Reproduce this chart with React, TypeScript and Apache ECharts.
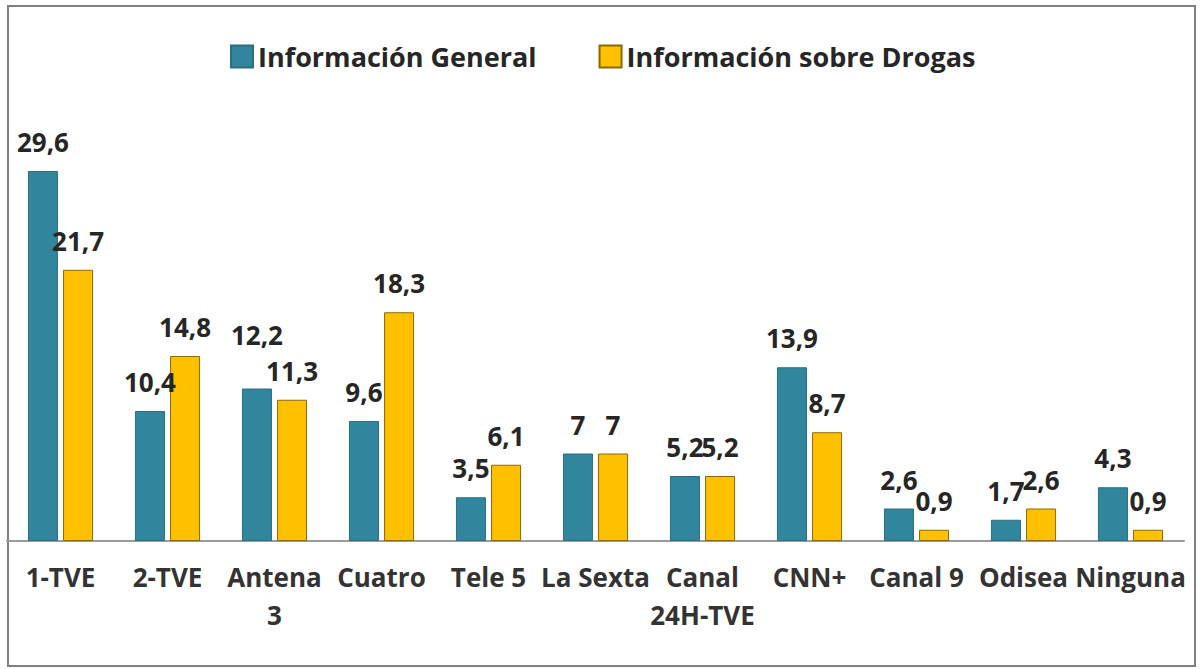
import React, { useEffect, useRef } from "react";
import * as echarts from "echarts";

const categories = ["1-TVE", "2-TVE", "Antena\n3", "Cuatro", "Tele 5", "La Sexta", "Canal\n24H-TVE", "CNN+", "Canal 9", "Odisea", "Ninguna"];
const general = [29.6, 10.4, 12.2, 9.6, 3.5, 7, 5.2, 13.9, 2.6, 1.7, 4.3];
const drogas = [21.7, 14.8, 11.3, 18.3, 6.1, 7, 5.2, 8.7, 0.9, 2.6, 0.9];
const seriesNames = ["Información General", "Información sobre Drogas"];
// label of "Antena 3 / Información General" sits higher in the original
const raisedGeneralLabel = 2;

const FONT = "'Open Sans', 'Noto Sans', sans-serif";

export default function App() {
  const ref = useRef<HTMLDivElement>(null);
  useEffect(() => {
    if (!ref.current) return;
    const chart = echarts.init(ref.current, null, { renderer: "svg" });
    const label = {
      show: true,
      position: "top" as const,
      distance: 16,
      fontFamily: FONT,
      fontWeight: "bold" as const,
      fontSize: 26,
      color: "#262626",
      formatter: (p: any) => String(p.value).replace(".", ","),
    };
    const generalData = general.map((v, i) =>
      i === raisedGeneralLabel ? { value: v, label: { offset: [0, -25] } } : v
    );
    chart.setOption({
      animation: false,
      backgroundColor: "#ffffff",
      graphic: [
        {
          type: "rect",
          shape: { x: 8, y: 6, width: 1187, height: 660 },
          style: { fill: "none", stroke: "#7f7f7f", lineWidth: 2 },
          silent: true,
        },
      ],
      legend: {
        top: 38,
        left: 225,
        itemWidth: 22,
        itemHeight: 22,
        itemGap: 62,
        icon: "rect",
        textStyle: { fontFamily: FONT, fontWeight: "bold", fontSize: 27, color: "#262626" },
        data: seriesNames,
      },
      grid: { left: 7, right: 17, top: 103.5, bottom: 128, containLabel: false },
      xAxis: {
        type: "category",
        data: categories,
        axisLine: { show: true, lineStyle: { color: "#9a9a9a", width: 2 } },
        axisTick: { show: false },
        axisLabel: {
          interval: 0,
          margin: 17,
          fontFamily: FONT,
          fontWeight: "bold",
          fontSize: 26,
          lineHeight: 38,
          color: "#333333",
          verticalAlign: "top",
        },
      },
      yAxis: {
        type: "value",
        min: 0,
        max: 35,
        show: false,
        splitLine: { show: false },
      },
      series: [
        {
          name: seriesNames[0],
          type: "bar",
          data: generalData,
          barWidth: 30,
          barGap: "17%",
          itemStyle: { color: "#31859c", borderColor: "#2a6f82", borderWidth: 1 },
          label,
        },
        {
          name: seriesNames[1],
          type: "bar",
          data: drogas,
          barWidth: 30,
          itemStyle: { color: "#ffc000", borderColor: "#8a6a00", borderWidth: 1 },
          label,
        },
      ],
    });
    return () => chart.dispose();
  }, []);
  return (
    <div
      ref={ref}
      style={{ position: "absolute", left: 0, top: 0, width: 1201, height: 669 }}
    />
  );
}
